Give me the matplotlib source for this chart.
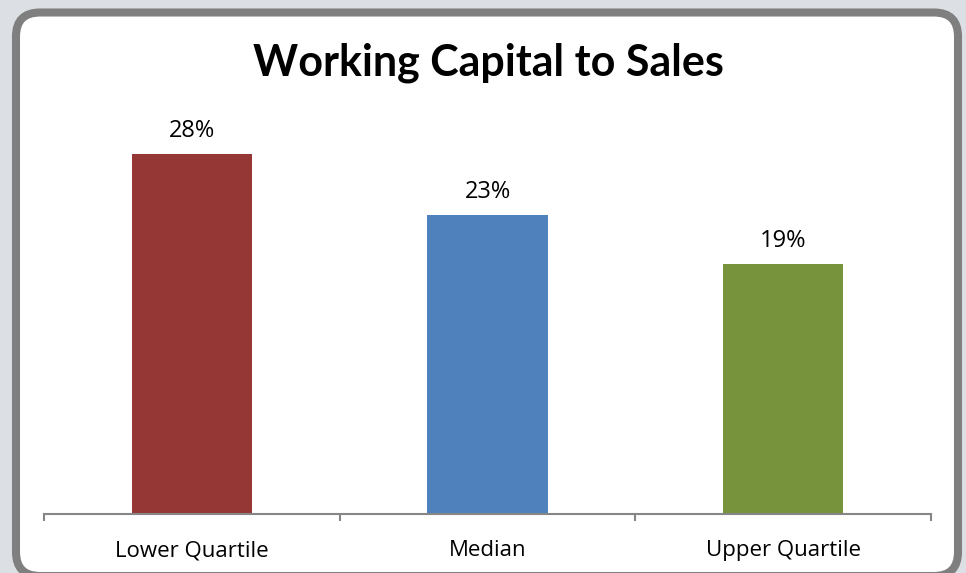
import matplotlib.pyplot as plt
from matplotlib.patches import FancyBboxPatch

categories = ['Lower Quartile', 'Median', 'Upper Quartile']
values = [0.277, 0.23, 0.192]
labels = ['28%', '23%', '19%']
colors = ['#953735', '#4F81BD', '#77933C']

plt.rcParams['font.family'] = ['Open Sans', 'DejaVu Sans']

fig = plt.figure(figsize=(9.66, 5.73), dpi=100)
fig.patch.set_facecolor('#DCDFE3')

# rounded white panel with grey border (pixel coordinates)
box = FancyBboxPatch((16, -3), 942, 563.5, boxstyle='round,pad=0,rounding_size=24',
                     transform=None, facecolor='white', edgecolor='#7F7F7F',
                     linewidth=5.8, zorder=0)
fig.add_artist(box)

ax = fig.add_axes([44 / 966, 59 / 573, 887 / 966, 390 / 573])
ax.set_facecolor('none')
x = range(len(categories))
bars = ax.bar(x, values, width=0.406, color=colors)
ax.set_xlim(-0.5, 2.5)
ax.set_ylim(0, 0.3)

for b, lab in zip(bars, labels):
    ax.text(b.get_x() + b.get_width() / 2, b.get_height() + 0.0085, lab,
            ha='center', va='bottom', fontsize=17)

for s in ['top', 'right', 'left']:
    ax.spines[s].set_visible(False)
ax.spines['bottom'].set_color('#868686')
ax.spines['bottom'].set_linewidth(1.5)
ax.set_yticks([])
ax.set_xticks([-0.5, 0.5, 1.5, 2.5], minor=False)
ax.set_xticklabels([])
ax.tick_params(axis='x', which='major', length=5, width=1.5, color='#868686')
ax.set_xticks(list(x), minor=True)
ax.set_xticklabels(categories, minor=True, fontsize=16)
ax.tick_params(axis='x', which='minor', length=0, pad=19)

fig.text(488 / 966, 1 - 63 / 573, 'Working Capital to Sales', ha='center', va='center',
         fontsize=31, fontweight='bold', family=['Lato', 'DejaVu Sans'])

fig.savefig('out.png', dpi=100, facecolor=fig.get_facecolor())
